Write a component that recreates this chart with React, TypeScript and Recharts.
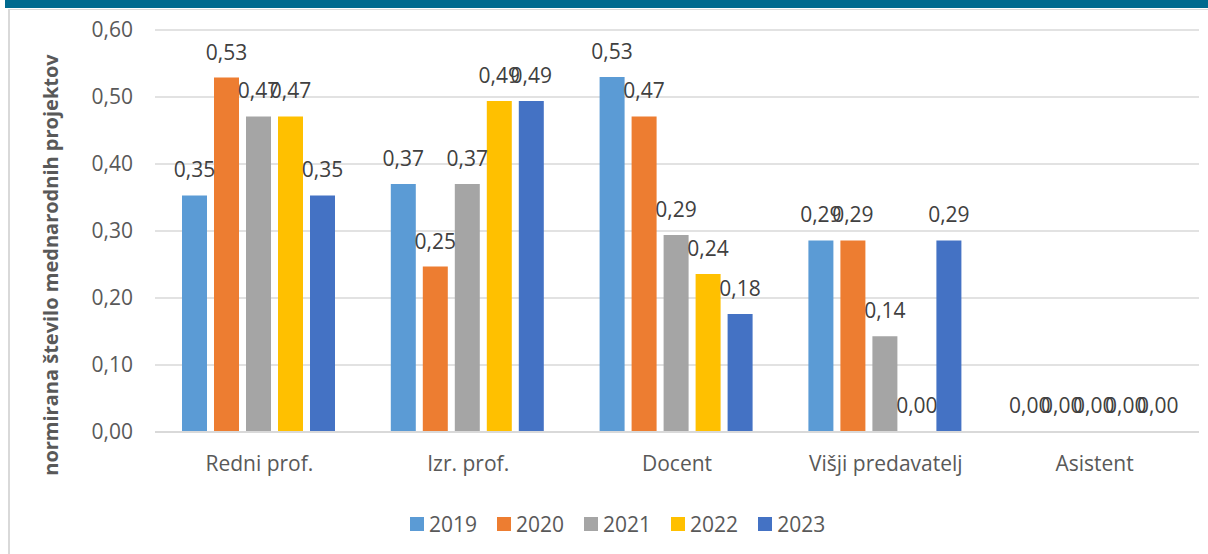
import React from 'react';
import { BarChart, Bar, XAxis, YAxis, CartesianGrid, LabelList, Rectangle } from 'recharts';

const categories = ['Redni prof.', 'Izr. prof.', 'Docent', 'Višji predavatelj', 'Asistent'];
const years = ['2019', '2020', '2021', '2022', '2023'];
const colors = ['#5B9BD5', '#ED7D31', '#A5A5A5', '#FFC000', '#4472C4'];
const values2019 = [0.353, 0.370, 0.530, 0.286, 0];
const values2020 = [0.529, 0.247, 0.471, 0.286, 0];
const values2021 = [0.471, 0.370, 0.294, 0.143, 0];
const values2022 = [0.471, 0.494, 0.236, 0, 0];
const values2023 = [0.353, 0.494, 0.176, 0.286, 0];
const yTicks = [0, 0.1, 0.2, 0.3, 0.4, 0.5, 0.6];
const yTitle = 'normirana število mednarodnih projektov';

const series = [values2019, values2020, values2021, values2022, values2023];
const data = categories.map((c, i) => {
  const row: Record<string, any> = { name: c };
  years.forEach((y, j) => {
    row[y] = series[j][i];
  });
  return row;
});

const fmt = (v: any) => Number(v).toFixed(2).replace('.', ',');
const FONT = '"Open Sans", sans-serif';

const makeShape = (key: string) => (props: any) => {
  const v = props && props.payload ? props.payload[key] : 0;
  if (!v) return <g />;
  return <Rectangle {...props} />;
};

export default function App() {
  return (
    <div style={{ position: 'absolute', left: 0, top: 0, width: 1208, height: 554, overflow: 'hidden', background: '#fff', fontFamily: FONT }}>
      <div style={{ position: 'absolute', left: 5, top: 0, width: 1203, height: 8, background: '#006A8F' }} />
      <div style={{ position: 'absolute', left: 8, top: 9, width: 1300, height: 700, borderLeft: '2px solid #D9D9D9', borderTop: '1px solid #D9D9D9' }} />
      <div style={{ position: 'absolute', left: 0, top: 0 }}>
        <BarChart
          width={1208}
          height={554}
          data={data}
          margin={{ top: 30, right: 9, bottom: 62, left: 0 }}
          barCategoryGap={27}
          barGap={7}
        >
          <CartesianGrid vertical={false} stroke="#D9D9D9" strokeWidth={1.3} />
          <XAxis
            dataKey="name"
            height={60}
            axisLine={{ stroke: '#D9D9D9', strokeWidth: 2 }}
            tickLine={false}
            tickSize={0}
            tickMargin={24}
            tick={{ fill: '#595959', fontSize: 21, fontFamily: FONT }}
            interval={0}
          />
          <YAxis
            width={155}
            domain={[0, 0.6]}
            ticks={yTicks}
            axisLine={false}
            tickLine={false}
            tickSize={0}
            tickMargin={22}
            tickFormatter={fmt}
            tick={{ fill: '#595959', fontSize: 21, fontFamily: FONT }}
            label={{
              content: () => (
                <text
                  x={50}
                  y={265}
                  transform="rotate(-90, 50, 265)"
                  textAnchor="middle"
                  dominantBaseline="central"
                  fill="#595959"
                  fontSize={20}
                  fontWeight="bold"
                  fontFamily={FONT}
                >
                  {yTitle}
                </text>
              ),
            }}
          />
          {years.map((y, j) => (
            <Bar key={y} dataKey={y} fill={colors[j]} minPointSize={1} shape={makeShape(y)} isAnimationActive={false}>
              <LabelList
                dataKey={y}
                position="top"
                offset={18}
                formatter={fmt}
                style={{ fill: '#404040', fontSize: 21, fontFamily: FONT }}
              />
            </Bar>
          ))}
        </BarChart>
      </div>
      <div style={{ position: 'absolute', left: 410, top: 510, display: 'flex', alignItems: 'center', height: 28 }}>
        {years.map((y, j) => (
          <div key={y} style={{ display: 'flex', alignItems: 'center', marginRight: j < years.length - 1 ? 20 : 0 }}>
            <div style={{ width: 14, height: 14, background: colors[j], marginRight: 5 }} />
            <span style={{ fontSize: 21, color: '#595959', fontFamily: FONT, lineHeight: '28px' }}>{y}</span>
          </div>
        ))}
      </div>
    </div>
  );
}
